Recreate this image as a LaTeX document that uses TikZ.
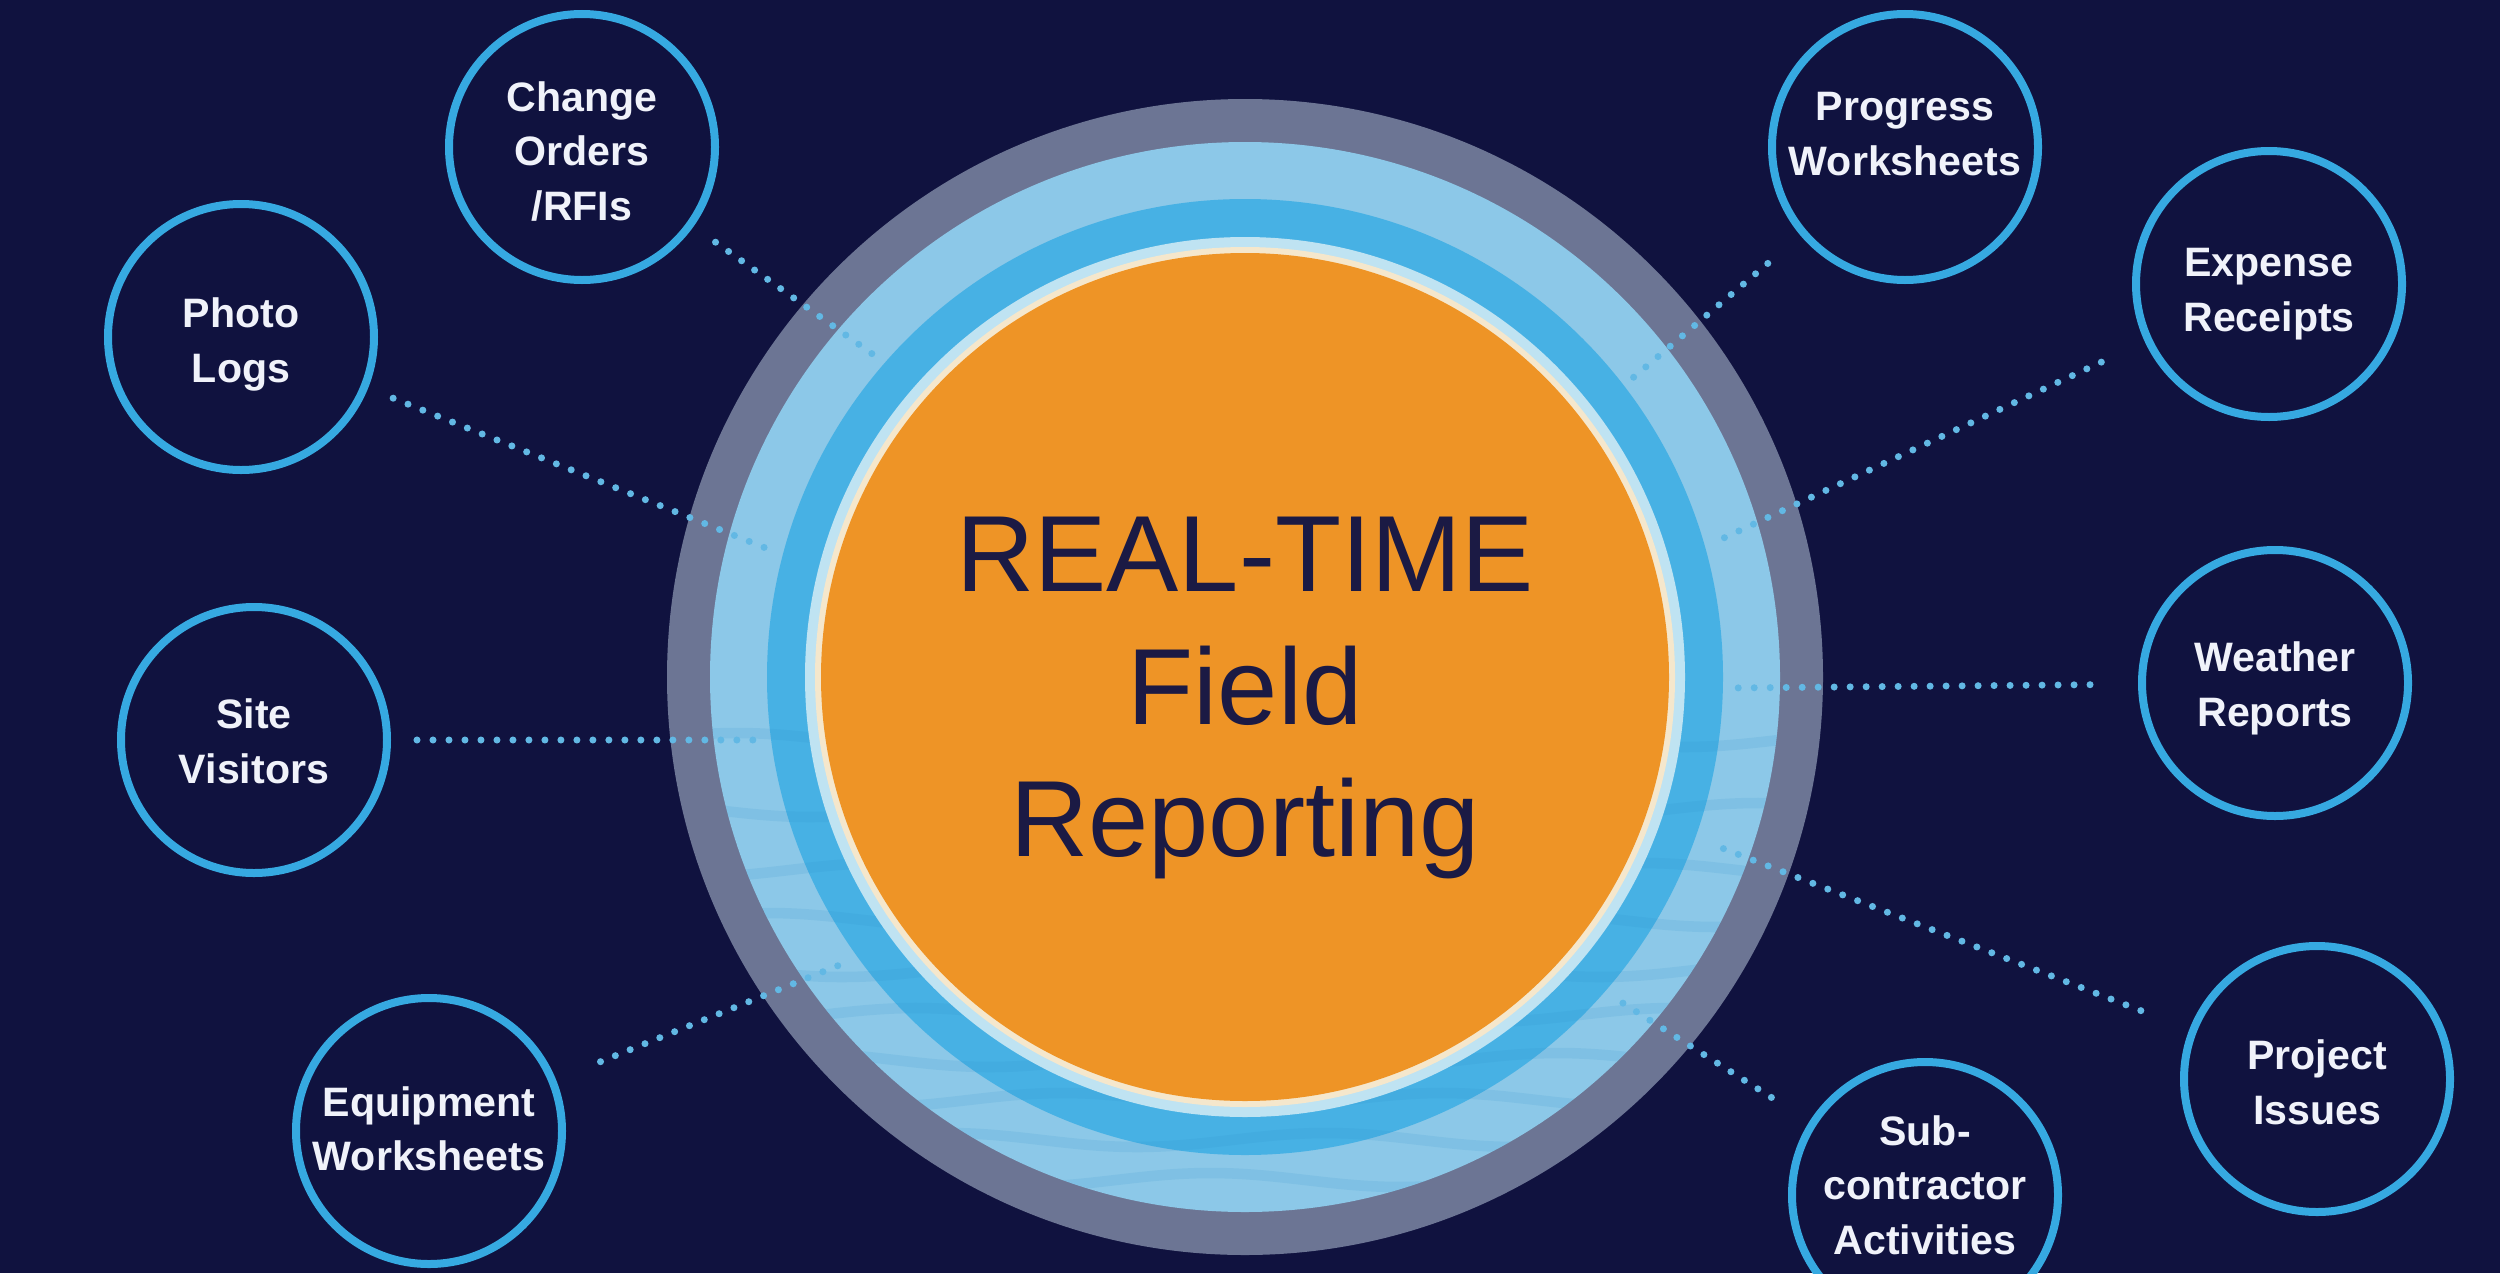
\documentclass[tikz,border=0pt]{standalone}
\usepackage{fontspec}
\setmainfont{Liberation Sans}
\usetikzlibrary{positioning}

\definecolor{navy}{HTML}{10123F}
\definecolor{ringgray}{HTML}{6C7594}
\definecolor{ringlight}{HTML}{8CC8E8}
\definecolor{ringmid}{HTML}{47B1E4}
\definecolor{ringpale}{HTML}{BFE3F2}
\definecolor{ripple}{HTML}{2A8CCB}
\definecolor{cream}{HTML}{F5E7CC}
\definecolor{coreorange}{HTML}{EE9426}
\definecolor{topicblue}{HTML}{36A9E1}
\definecolor{dotblue}{HTML}{62B8E4}
\definecolor{ink}{HTML}{1B1A44}
\definecolor{snow}{HTML}{F0F2FA}

\begin{document}
\begin{tikzpicture}
\tikzstyle{ring} = [circle, draw=none, inner sep=0pt, outer sep=0pt]
\tikzstyle{topic} = [circle, draw=topicblue, line width=0.08cm, fill=navy, minimum size=2.66cm, inner sep=0pt, align=center, text=snow, text height=0.98cm, text depth=0.10cm, font=\bfseries\fontsize{11.7}{15.4}\selectfont]
\tikzstyle{title} = [align=center, text=ink, inner sep=0pt, font=\fontsize{30.8}{37.7}\selectfont]
\tikzstyle{link} = [draw=dotblue, line width=2pt, line cap=round, dash pattern=on 0pt off 4.55pt, shorten <=0.48cm]
\tikzstyle{wave} = [draw=ripple, line width=3pt, opacity=0.13, line cap=round]

\useasboundingbox (0,0) rectangle (25,-12.73);
\clip (0,0) rectangle (25,-12.73);
\fill [navy] (0,0) rectangle (25,-12.73);

\node [ring, fill=ringgray, minimum size=11.56cm] (halo) at (12.45,-6.77) {};
\node [ring, fill=ringlight, minimum size=10.70cm] (glow) at (halo) {};
\node [ring, fill=ringmid, minimum size=9.56cm] (band) at (halo) {};

\begin{scope}[even odd rule]
\clip (halo.center) circle (5.35) (halo.center) circle (4.30);
\foreach \y [count=\i] in {7.4,8.1,8.7,9.2,9.7,10.15,10.6,11.0,11.4,11.8,12.2}
  \draw [wave] plot [domain=6.9:18.0, samples=60, smooth] (\x, {-\y + 0.07*sin(\x*95 + \i*110)});
\end{scope}

\node [ring, fill=ringpale, minimum size=8.80cm] (rim) at (halo) {};
\node [ring, fill=cream, minimum size=8.60cm] (edge) at (halo) {};
\node [ring, fill=coreorange, minimum size=8.48cm] (core) at (halo) {};
\node [title] (headline) [below of=core, node distance=0.21cm] {REAL-TIME\\Field\\Reporting};

\node [topic, text height=0.96cm] (weather) [right of=core, node distance=10.30cm, yshift=-0.06cm] {Weather\\Reports};
\node [topic, text height=1.04cm] (expense) [above of=weather, node distance=3.99cm, xshift=-0.06cm] {Expense\\Receipts};
\node [topic, text height=1.00cm] (issues) [below of=weather, node distance=3.96cm, xshift=0.42cm] {Project\\Issues};
\node [topic, text height=0.96cm] (visitors) [left of=core, node distance=9.91cm, yshift=-0.63cm] {Site\\Visitors};
\node [topic, text height=1.00cm] (photos) [above of=visitors, node distance=4.03cm, xshift=-0.13cm] {Photo\\Logs};
\node [topic, text height=0.89cm] (equipment) [below of=visitors, node distance=3.91cm, xshift=1.75cm] {Equipment\\Worksheets};
\node [topic, text height=1.56cm] (changes) [above of=core, node distance=5.30cm, xshift=-6.63cm] {Change\\Orders\\/RFIs};
\node [topic, text height=0.66cm] (progress) [right of=changes, node distance=13.23cm] {Progress\\Worksheets};
\node [topic, text height=1.28cm] (subs) [below of=core, node distance=5.18cm, xshift=6.80cm] {Sub-\\contractor\\Activities};

\coordinate (changesin) at (8.78,-3.58);
\coordinate (photosin) at (7.78,-5.53);
\coordinate (visitorsin) at (7.63,-7.40);
\coordinate (equipmentin) at (8.47,-9.62);
\coordinate (progressin) at (16.28,-3.82);
\coordinate (expensein) at (17.13,-5.43);
\coordinate (weatherin) at (17.27,-6.88);
\coordinate (issuesin) at (17.09,-8.43);
\coordinate (subsin) at (16.18,-10.00);

\draw [link, shorten <=0.27cm] (changes) -- (changesin);
\draw [link, shorten <=0.27cm] (photos) -- (photosin);
\draw [link, shorten <=0.26cm] (visitors) -- (visitorsin);
\draw [link] (equipment) -- (equipmentin);
\draw [link, shorten <=0.43cm] (progress) -- (progressin);
\draw [link] (expense) -- (expensein);
\draw [link] (weather) -- (weatherin);
\draw [link, shorten <=0.52cm] (issues) -- (issuesin);
\draw [link, shorten <=0.45cm] (subs) -- (subsin);

\end{tikzpicture}
\end{document}
